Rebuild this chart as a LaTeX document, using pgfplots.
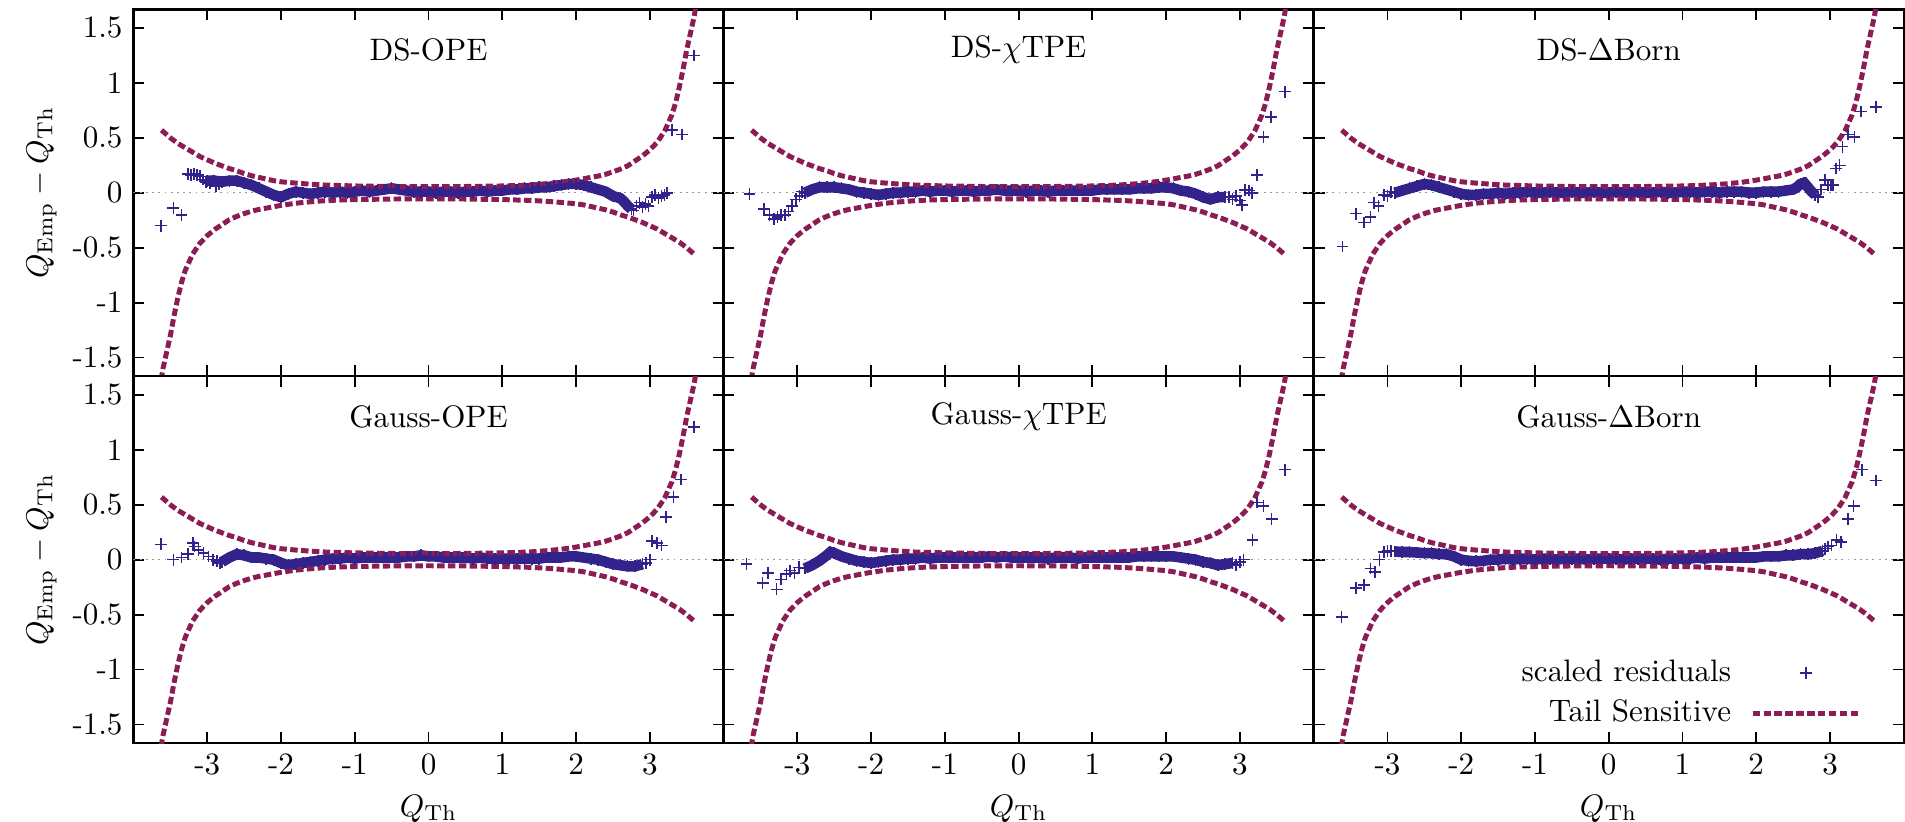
\documentclass[border=0pt]{standalone}
\usepackage{pgfplots}
\pgfplotsset{compat=1.18}
\usepackage{pgfplotstable}
\usepgfplotslibrary{groupplots}

\definecolor{tsred}{RGB}{140,28,84}
\definecolor{resblue}{RGB}{50,34,140}

% Tail-sensitive band
\pgfplotstableread{
x y
-3.62 0.57
-3.5 0.50
-3.4 0.45
-3.3 0.41
-3.2 0.37
-3.1 0.33
-3.0 0.30
-2.9 0.27
-2.8 0.245
-2.7 0.22
-2.6 0.20
-2.5 0.175
-2.4 0.155
-2.3 0.14
-2.2 0.125
-2.1 0.11
-2.0 0.10
-1.8 0.088
-1.6 0.078
-1.4 0.07
-1.2 0.066
-1.0 0.062
-0.5 0.057
0.0 0.055
0.5 0.057
1.0 0.062
1.2 0.066
1.4 0.072
1.6 0.082
1.8 0.095
2.0 0.115
2.1 0.127
2.2 0.14
2.3 0.152
2.4 0.168
2.5 0.19
2.6 0.215
2.7 0.245
2.8 0.29
2.9 0.335
3.0 0.39
3.1 0.46
3.2 0.56
3.3 0.71
3.35 0.82
3.4 0.96
3.45 1.12
3.5 1.30
3.55 1.45
3.6 1.60
3.65 1.80
}\tsup
\pgfplotstableread{
x y
-3.65 -1.80
-3.6 -1.60
-3.55 -1.45
-3.5 -1.30
-3.45 -1.12
-3.4 -0.96
-3.35 -0.82
-3.3 -0.71
-3.2 -0.56
-3.1 -0.46
-3.0 -0.39
-2.9 -0.335
-2.8 -0.29
-2.7 -0.245
-2.6 -0.215
-2.5 -0.19
-2.4 -0.168
-2.3 -0.152
-2.2 -0.14
-2.1 -0.127
-2.0 -0.115
-1.8 -0.095
-1.6 -0.082
-1.4 -0.072
-1.2 -0.066
-1.0 -0.062
-0.5 -0.057
0.0 -0.055
0.5 -0.057
1.0 -0.062
1.2 -0.066
1.4 -0.07
1.6 -0.078
1.8 -0.088
2.0 -0.10
2.1 -0.11
2.2 -0.125
2.3 -0.14
2.4 -0.155
2.5 -0.175
2.6 -0.20
2.7 -0.22
2.8 -0.245
2.9 -0.27
3.0 -0.30
3.1 -0.33
3.2 -0.37
3.3 -0.41
3.4 -0.45
3.5 -0.50
3.62 -0.57
}\tslo

% ---------- Panel 1: DS-OPE ----------
\pgfplotstableread{
x y
-3.00 0.11
-2.90 0.11
-2.80 0.10
-2.70 0.11
-2.60 0.11
-2.50 0.09
-2.40 0.07
-2.30 0.04
-2.20 0.01
-2.10 -0.02
-2.00 -0.04
-1.90 -0.01
-1.80 0.01
-1.70 0.00
-1.60 -0.01
-1.50 0.00
-1.40 0.01
-1.30 0.00
-1.20 0.01
-1.10 0.00
-1.00 0.01
-0.90 0.02
-0.80 0.01
-0.70 0.02
-0.60 0.03
-0.50 0.04
-0.40 0.03
-0.30 0.02
-0.20 0.01
-0.10 0.01
0.00 0.01
0.10 0.00
0.20 0.01
0.30 0.01
0.40 0.00
0.50 0.01
0.60 0.01
0.70 0.02
0.80 0.01
0.90 0.02
1.00 0.02
1.10 0.03
1.20 0.03
1.30 0.04
1.40 0.04
1.50 0.05
1.60 0.05
1.70 0.06
1.80 0.07
1.90 0.08
2.00 0.08
2.10 0.07
2.20 0.05
2.30 0.03
2.40 0.01
2.50 -0.03
2.60 -0.05
2.65 -0.08
2.70 -0.12
2.75 -0.15
}\pAd
\pgfplotstableread{
x y
-3.63 -0.30
-3.46 -0.14
-3.35 -0.20
-3.26 0.17
-3.22 0.16
-3.18 0.17
-3.14 0.16
-3.10 0.15
-3.06 0.12
-3.02 0.10
-2.96 0.09
-2.92 0.11
-2.88 0.06
-2.84 0.08
2.78 -0.16
2.82 -0.12
2.86 -0.09
2.90 -0.13
2.94 -0.10
2.98 -0.12
3.03 -0.04
3.07 -0.02
3.12 -0.05
3.16 -0.03
3.20 -0.02
3.23 0.00
3.30 0.57
3.44 0.53
3.60 1.25
}\pAs

% ---------- Panel 2: DS-chiTPE ----------
\pgfplotstableread{
x y
-2.90 0.00
-2.80 0.03
-2.70 0.05
-2.60 0.05
-2.50 0.05
-2.40 0.04
-2.30 0.03
-2.20 0.01
-2.10 0.00
-2.00 -0.01
-1.90 -0.02
-1.80 -0.01
-1.70 0.00
-1.60 0.00
-1.50 0.01
-1.40 0.01
-1.30 0.02
-1.20 0.01
-1.10 0.02
-1.00 0.02
-0.90 0.01
-0.80 0.02
-0.70 0.02
-0.60 0.01
-0.50 0.02
-0.40 0.02
-0.30 0.03
-0.20 0.02
-0.10 0.02
0.00 0.02
0.10 0.01
0.20 0.02
0.30 0.02
0.40 0.01
0.50 0.02
0.60 0.02
0.70 0.02
0.80 0.02
0.90 0.02
1.00 0.02
1.10 0.03
1.20 0.03
1.30 0.03
1.40 0.03
1.50 0.03
1.60 0.04
1.70 0.04
1.80 0.04
1.90 0.05
2.00 0.05
2.10 0.04
2.20 0.02
2.30 0.01
2.40 -0.01
2.50 -0.04
2.60 -0.06
2.70 -0.04
2.80 -0.04
}\pBd
\pgfplotstableread{
x y
-3.65 -0.01
-3.45 -0.15
-3.38 -0.20
-3.32 -0.24
-3.27 -0.22
-3.22 -0.20
-3.17 -0.20
-3.12 -0.17
-3.07 -0.12
-3.02 -0.06
-2.97 -0.03
-2.94 0.01
2.85 -0.04
2.90 -0.06
2.95 -0.03
3.00 -0.07
3.03 -0.11
3.07 0.025
3.12 0.02
3.16 0.00
3.23 0.16
3.32 0.51
3.42 0.69
3.61 0.92
}\pBs

% ---------- Panel 3: DS-DeltaBorn ----------
\pgfplotstableread{
x y
-2.90 0.00
-2.80 0.02
-2.70 0.04
-2.60 0.06
-2.50 0.08
-2.40 0.07
-2.30 0.05
-2.20 0.03
-2.10 0.01
-2.00 -0.01
-1.90 -0.02
-1.80 -0.02
-1.70 -0.01
-1.60 -0.01
-1.50 0.00
-1.40 -0.01
-1.30 0.00
-1.20 0.00
-1.10 0.01
-1.00 0.00
-0.90 0.00
-0.80 0.01
-0.70 0.00
-0.60 0.00
-0.50 0.01
-0.40 0.00
-0.30 0.00
-0.20 0.01
-0.10 0.00
0.00 0.00
0.10 0.01
0.20 0.00
0.30 0.00
0.40 0.01
0.50 0.00
0.60 0.00
0.70 0.01
0.80 0.00
0.90 0.00
1.00 0.01
1.10 0.01
1.20 0.00
1.30 0.01
1.40 0.01
1.50 0.00
1.60 0.01
1.70 0.01
1.80 0.01
1.90 0.00
2.00 0.00
2.10 0.01
2.20 0.01
2.30 0.01
2.40 0.02
2.50 0.03
2.55 0.05
2.60 0.08
2.65 0.09
2.70 0.05
2.75 0.01
2.80 -0.02
}\pCd
\pgfplotstableread{
x y
-3.61 -0.49
-3.43 -0.19
-3.32 -0.27
-3.23 -0.22
-3.18 -0.09
-3.12 -0.12
-3.05 -0.02
-3.00 -0.03
-2.95 0.01
2.84 -0.04
2.88 0.03
2.93 0.115
2.97 0.07
3.01 0.07
3.04 0.07
3.08 0.22
3.13 0.25
3.17 0.42
3.24 0.53
3.33 0.51
3.42 0.74
3.62 0.78
}\pCs

% ---------- Panel 4: Gauss-OPE ----------
\pgfplotstableread{
x y
-2.80 -0.02
-2.70 0.02
-2.60 0.05
-2.50 0.04
-2.40 0.02
-2.30 0.02
-2.20 0.01
-2.10 0.00
-2.00 -0.03
-1.90 -0.05
-1.80 -0.04
-1.70 -0.03
-1.60 -0.02
-1.50 -0.01
-1.40 0.00
-1.30 0.01
-1.20 0.01
-1.10 0.02
-1.00 0.01
-0.90 0.02
-0.80 0.02
-0.70 0.02
-0.60 0.02
-0.50 0.02
-0.40 0.02
-0.30 0.03
-0.20 0.03
-0.10 0.04
0.00 0.03
0.10 0.03
0.20 0.02
0.30 0.02
0.40 0.02
0.50 0.02
0.60 0.01
0.70 0.02
0.80 0.01
0.90 0.01
1.00 0.01
1.10 0.01
1.20 0.01
1.30 0.01
1.40 0.01
1.50 0.01
1.60 0.02
1.70 0.02
1.80 0.02
1.90 0.03
2.00 0.03
2.10 0.02
2.20 0.01
2.30 0.00
2.40 -0.02
2.50 -0.04
2.60 -0.05
2.70 -0.06
2.80 -0.06
2.90 -0.04
}\pDd
\pgfplotstableread{
x y
-3.63 0.14
-3.46 0.00
-3.35 0.02
-3.26 0.05
-3.19 0.15
-3.17 0.12
-3.12 0.09
-3.05 0.06
-2.98 0.03
-2.92 0.00
-2.87 -0.01
-2.83 -0.03
2.95 -0.03
3.00 0.00
3.03 0.17
3.10 0.15
3.16 0.13
3.22 0.39
3.32 0.57
3.42 0.73
3.60 1.21
}\pDs

% ---------- Panel 5: Gauss-chiTPE ----------
\pgfplotstableread{
x y
-2.90 -0.08
-2.80 -0.05
-2.70 -0.01
-2.60 0.04
-2.55 0.07
-2.50 0.06
-2.40 0.03
-2.30 0.01
-2.20 -0.01
-2.10 -0.02
-2.00 -0.03
-1.90 -0.02
-1.80 -0.01
-1.70 0.00
-1.60 0.00
-1.50 0.01
-1.40 0.01
-1.30 0.02
-1.20 0.01
-1.10 0.02
-1.00 0.02
-0.90 0.02
-0.80 0.02
-0.70 0.02
-0.60 0.02
-0.50 0.02
-0.40 0.03
-0.30 0.02
-0.20 0.03
-0.10 0.02
0.00 0.02
0.10 0.02
0.20 0.02
0.30 0.02
0.40 0.01
0.50 0.02
0.60 0.02
0.70 0.02
0.80 0.01
0.90 0.02
1.00 0.02
1.10 0.02
1.20 0.02
1.30 0.02
1.40 0.02
1.50 0.02
1.60 0.03
1.70 0.03
1.80 0.03
1.90 0.03
2.00 0.03
2.10 0.03
2.20 0.02
2.30 0.01
2.40 0.00
2.50 -0.02
2.60 -0.03
2.70 -0.05
2.80 -0.04
2.90 -0.03
}\pEd
\pgfplotstableread{
x y
-3.69 -0.04
-3.47 -0.21
-3.40 -0.12
-3.28 -0.27
-3.22 -0.18
-3.15 -0.13
-3.10 -0.10
-3.04 -0.12
-2.98 -0.07
2.95 -0.05
3.00 -0.02
3.05 0.00
3.17 0.18
3.23 0.52
3.32 0.49
3.43 0.37
3.61 0.82
}\pEs

% ---------- Panel 6: Gauss-DeltaBorn ----------
\pgfplotstableread{
x y
-2.90 0.075
-2.80 0.07
-2.70 0.07
-2.60 0.065
-2.50 0.06
-2.40 0.06
-2.30 0.05
-2.20 0.05
-2.10 0.03
-2.00 0.00
-1.90 -0.01
-1.80 -0.015
-1.70 -0.01
-1.60 0.00
-1.50 0.00
-1.40 0.01
-1.30 0.00
-1.20 0.01
-1.10 0.01
-1.00 0.00
-0.90 0.01
-0.80 0.01
-0.70 0.00
-0.60 0.01
-0.50 0.01
-0.40 0.01
-0.30 0.00
-0.20 0.01
-0.10 0.01
0.00 0.01
0.10 0.01
0.20 0.00
0.30 0.01
0.40 0.01
0.50 0.01
0.60 0.01
0.70 0.00
0.80 0.01
0.90 0.01
1.00 0.01
1.10 0.01
1.20 0.02
1.30 0.01
1.40 0.02
1.50 0.02
1.60 0.02
1.70 0.02
1.80 0.02
1.90 0.02
2.00 0.02
2.10 0.03
2.20 0.03
2.30 0.03
2.40 0.04
2.50 0.04
2.60 0.05
2.70 0.05
2.80 0.06
2.90 0.08
}\pFd
\pgfplotstableread{
x y
-3.62 -0.52
-3.43 -0.26
-3.32 -0.23
-3.23 -0.08
-3.17 -0.11
-3.11 0.00
-3.05 0.07
-3.00 0.08
-2.95 0.08
2.93 0.10
2.97 0.12
3.02 0.13
3.09 0.18
3.15 0.16
3.24 0.37
3.32 0.49
3.43 0.82
3.62 0.72
}\pFs

\pgfplotsset{
  zeroline/.style={gray!80, line width=0.4pt, dash pattern=on 0.6pt off 1.4pt, forget plot},
  bandline/.style={resblue, line width=3.4pt, no marks, forget plot},
  resmark/.style={resblue, only marks, mark=+, mark size=1.9pt, mark options={line width=0.5pt}},
  tsline/.style={tsred, line width=1.6pt, dash pattern=on 2.4pt off 1.1pt, no marks},
  markleg/.style={legend image code/.code={\draw[mark repeat=2,mark phase=2,##1] plot coordinates {(0pt,0pt) (17.1pt,0pt) (34.2pt,0pt)};}},
  lineleg/.style={legend image code/.code={\draw[##1] (0pt,0pt) -- (34.2pt,0pt);}},
  xlab/.style={xticklabels={-3,-2,-1,0,1,2,3}, xlabel={$Q_{\rm Th}$}},
  ylab/.style={yticklabels={-1.5,-1,-0.5,0,0.5,1,1.5}, ylabel={$Q_{\rm Emp} - Q_{\rm Th}$}},
}
\newcommand{\ptitle}[1]{\node[anchor=center, inner sep=0pt] at (rel axis cs:0.5,0.889) {#1};}

\begin{document}
\begin{tikzpicture}
\begin{groupplot}[
  group style={group size=3 by 2, horizontal sep=0pt, vertical sep=0pt},
  scale only axis, width=190.1pt, height=118.2pt,
  xmin=-4, xmax=4, ymin=-1.67, ymax=1.67,
  xtick={-3,-2,-1,0,1,2,3}, ytick={-1.5,-1,-0.5,0,0.5,1,1.5},
  xticklabels={}, yticklabels={},
  tick align=inside, major tick length=3.5pt,
  axis line style={line width=0.8pt},
  every tick/.style={black, line width=0.6pt},
  ylabel style={at={([xshift=-29.6pt]rel axis cs:0,0.5)}, anchor=center},
  xlabel style={at={([yshift=-23.5pt]rel axis cs:0.5,0)}, anchor=base},
]
% ---- row 1 ----
\nextgroupplot[ylab]
\addplot[zeroline] coordinates {(-4,0) (4,0)};
\addplot[bandline] table {\pAd};
\addplot[resmark, forget plot] table {\pAd};
\addplot[resmark] table {\pAs};
\addplot[tsline] table {\tsup};
\addplot[tsline, forget plot] table {\tslo};
\ptitle{DS-OPE}

\nextgroupplot
\addplot[zeroline] coordinates {(-4,0) (4,0)};
\addplot[bandline] table {\pBd};
\addplot[resmark, forget plot] table {\pBd};
\addplot[resmark] table {\pBs};
\addplot[tsline] table {\tsup};
\addplot[tsline, forget plot] table {\tslo};
\ptitle{DS-$\chi$TPE}

\nextgroupplot
\addplot[zeroline] coordinates {(-4,0) (4,0)};
\addplot[bandline] table {\pCd};
\addplot[resmark, forget plot] table {\pCd};
\addplot[resmark] table {\pCs};
\addplot[tsline] table {\tsup};
\addplot[tsline, forget plot] table {\tslo};
\ptitle{DS-$\Delta$Born}

% ---- row 2 ----
\nextgroupplot[ylab, xlab]
\addplot[zeroline] coordinates {(-4,0) (4,0)};
\addplot[bandline] table {\pDd};
\addplot[resmark, forget plot] table {\pDd};
\addplot[resmark] table {\pDs};
\addplot[tsline] table {\tsup};
\addplot[tsline, forget plot] table {\tslo};
\ptitle{Gauss-OPE}

\nextgroupplot[xlab]
\addplot[zeroline] coordinates {(-4,0) (4,0)};
\addplot[bandline] table {\pEd};
\addplot[resmark, forget plot] table {\pEd};
\addplot[resmark] table {\pEs};
\addplot[tsline] table {\tsup};
\addplot[tsline, forget plot] table {\tslo};
\ptitle{Gauss-$\chi$TPE}

\nextgroupplot[xlab,
  legend plot pos=right, legend cell align=right,
  legend style={at={(rel axis cs:0.945,0.01)}, anchor=south east,
    draw=none, fill=none, row sep=0.5pt, column sep=4.2pt}]
\addplot[zeroline] coordinates {(-4,0) (4,0)};
\addplot[bandline] table {\pFd};
\addplot[resmark, forget plot] table {\pFd};
\addplot[resmark, markleg] table {\pFs};
\addlegendentry{scaled residuals}
\addplot[tsline, lineleg] table {\tsup};
\addlegendentry{Tail Sensitive}
\addplot[tsline, forget plot] table {\tslo};
\ptitle{Gauss-$\Delta$Born}
\end{groupplot}
\pgfresetboundingbox
\path[use as bounding box] ([xshift=-43.0pt,yshift=3.0pt]group c1r1.north west) rectangle ([xshift=0.4pt,yshift=-25.2pt]group c3r2.south east);
\end{tikzpicture}
\end{document}
